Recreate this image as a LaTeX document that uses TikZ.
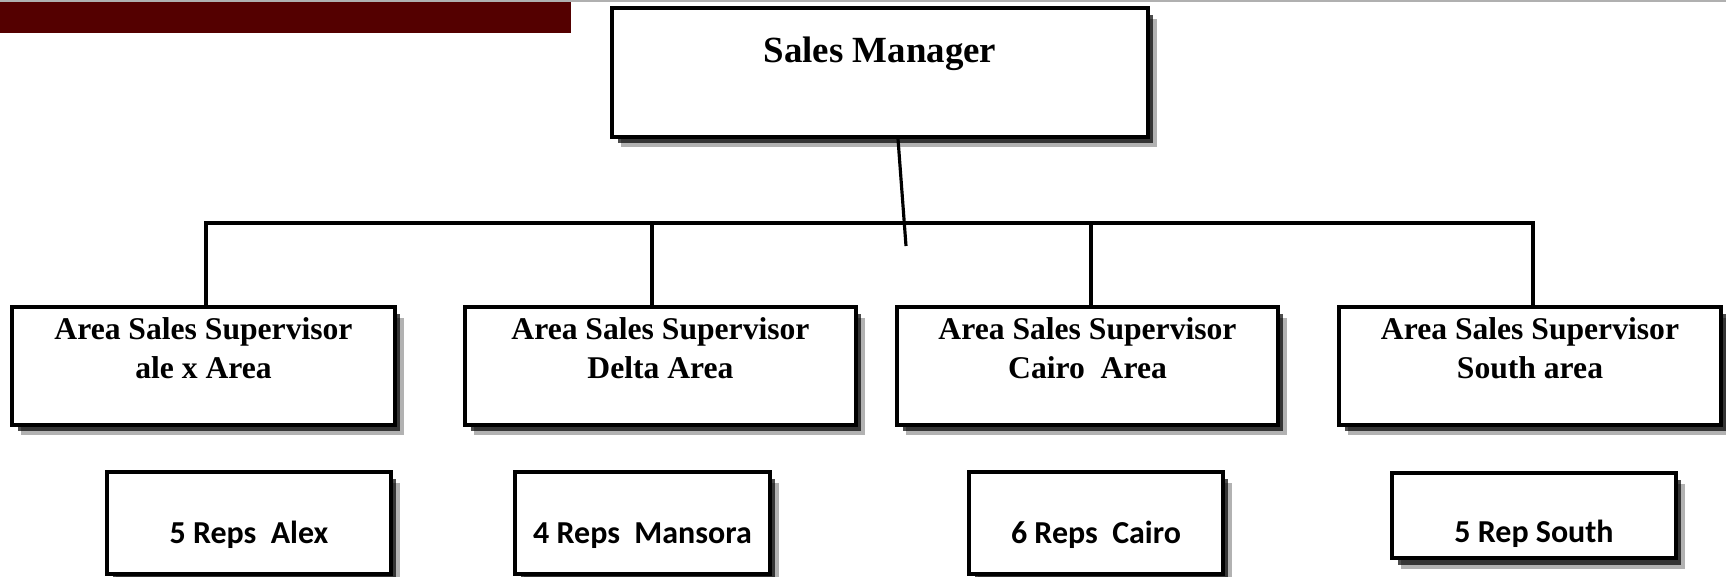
\documentclass[tikz,border=0pt]{standalone}
\usepackage{fontspec}
\setmainfont{Liberation Serif}
\newfontfamily\repfont{Carlito}
\usetikzlibrary{shadows}
\definecolor{barred}{RGB}{84,0,0}
\definecolor{topgray}{RGB}{176,176,176}
\tikzset{
  box/.style={draw=black, line width=2.2pt, fill=white, rectangle, inner sep=0pt,
    anchor=base, align=flush center,
    drop shadow={shadow xshift=0.18cm, shadow yshift=-0.21cm, opacity=0.3, fill=black},
    drop shadow={shadow xshift=0.11cm, shadow yshift=-0.13cm, opacity=0.7, fill=black}},
  mgrbox/.style={box, text width=10.72cm, text height=1.08cm, text depth=1.50cm,
    font=\fontsize{21pt}{25pt}\selectfont\bfseries},
  supbox/.style={box, text height=0.64cm, text depth=1.72cm,
    font=\fontsize{18pt}{22.2pt}\selectfont\bfseries},
  repbox/.style={box, text height=1.42cm, text depth=0.62cm,
    font=\fontsize{18.2pt}{21pt}\repfont\bfseries},
  link/.style={draw=black, line width=1.8pt}
}
\begin{document}
\begin{tikzpicture}[x=0.02cm, y=-0.02cm]
\useasboundingbox (0,0) rectangle (1726,576);
\fill[white] (0,0) rectangle (1726,576);
% header strips
\fill[topgray] (0,0) rectangle (1726,2);
\fill[barred] (0,2) rectangle (571,33);

% manager
\node[mgrbox] (sm) at (880,62) {Sales Manager};

% supervisors
\node[supbox, text width=7.66cm] (s1) at (203.5,339) {Area Sales Supervisor\\ale x Area};
\node[supbox, text width=7.82cm] (s2) at (660.5,339) {Area Sales Supervisor\\Delta Area};
\node[supbox, text width=7.62cm] (s3) at (1087.5,339) {Area Sales Supervisor\\Cairo~ Area};
\node[supbox, text width=7.64cm] (s4) at (1530,339) {Area Sales Supervisor\\South area};

% reps
\node[repbox, text width=5.68cm] (r1) at (249,543) {5 Reps~ Alex};
\node[repbox, text width=5.10cm] (r2) at (642.5,543) {4 Reps~ Mansora};
\node[repbox, text width=5.08cm] (r3) at (1096,543) {6 Reps~ Cairo};
\node[repbox, text width=5.68cm, text height=1.38cm, text depth=0.32cm] (r4) at (1534,542) {5 Rep South};

% connectors
\coordinate (b1) at (206,223);
\coordinate (b2) at (652,223);
\coordinate (b3) at (1091,223);
\coordinate (b4) at (1533,223);
\coordinate (drop) at (906,246);
\draw[link] ([xshift=0.36cm]sm.south) -- (drop);
\draw[link, line cap=rect] (b1) -- (b4);
\draw[link] (b1) -- (b1 |- s1.north);
\draw[link] (b2) -- (b2 |- s2.north);
\draw[link] (b3) -- (b3 |- s3.north);
\draw[link] (b4) -- (b4 |- s4.north);
\end{tikzpicture}
\end{document}
